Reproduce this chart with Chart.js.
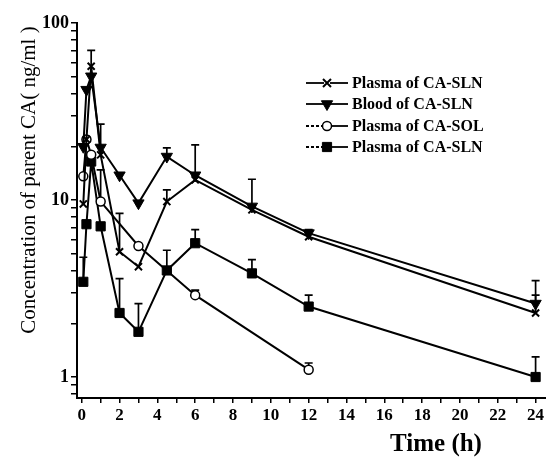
<!DOCTYPE html>
<html><head><meta charset="utf-8">
<script src="https://cdn.jsdelivr.net/npm/chart.js@4"></script>
<style>html,body{margin:0;padding:0;background:#fff}canvas{display:block}</style>
</head><body>
<canvas id="c" width="546" height="457"></canvas>
<script>
// ---- data ----
const times = [0.083, 0.25, 0.5, 1, 2, 3, 4.5, 6, 9, 12, 24];
const seriesNames = ['Plasma of CA-SLN', 'Blood of CA-SLN', 'Plasma of CA-SOL', 'Plasma of CA-SLN'];
const plasmaSLN   = [9.5, 22, 57, 18, 5.1, 4.2, 9.8, 13, 8.8, 6.2, 2.3];
const plasmaSLNsd = [null, null, 13, null, 3.3, null, 1.6, null, null, null, 0.6];
const bloodSLN    = [20, 42, 50, 19.8, 13.8, 9.6, 17.6, 13.8, 9.2, 6.5, 2.6];
const bloodSLNsd  = [null, null, null, 7, null, null, 2.1, 6.7, 3.9, 0.3, 0.9];
const plasmaSOL   = [13.6, 22, 18, 9.8, null, 5.5, null, 2.9, null, 1.1, null];
const plasmaSOLsd = [null, null, null, 5, null, null, null, 0.2, null, 0.1, null];
const plasmaSLN2  = [3.45, 7.3, 16.5, 7.1, 2.3, 1.8, 4.0, 5.7, 3.85, 2.5, 1.0];
const plasmaSLN2sd= [1.3, null, null, null, 1.3, 0.8, 1.2, 1.1, 0.75, 0.4, 0.3];
const xTicks = [0,1,2,3,4,5,6,7,8,9,10,11,12,13,14,15,16,17,18,19,20,21,22,23,24];
const xTickLabels = ['0','2','4','6','8','10','12','14','16','18','20','22','24'];
const yTicks = [0.8,0.9,1,2,3,4,5,6,7,8,9,10,20,30,40,50,60,70,80,90,100];
const yTickLabels = ['1','10','100'];
const xTitle = 'Time (h)';
const yTitle = 'Concentration of parent CA( ng/ml )';

const pts = arr => times.map((t, i) => ({x: t, y: arr[i]}));
const SERIF = '"Liberation Serif", "DejaVu Serif", serif';

const markerDefs = [
  {pointStyle: 'crossRot', radius: 5, rotation: 0, bg: '#000', bw: 2},
  {pointStyle: 'triangle', radius: 6.5, rotation: 180, bg: '#000', bw: 1},
  {pointStyle: 'circle', radius: 4.5, rotation: 0, bg: '#fff', bw: 1.5},
  {pointStyle: 'rect', radius: 6.5, rotation: 0, bg: '#000', bw: 1}
];
const values = [plasmaSLN, bloodSLN, plasmaSOL, plasmaSLN2];
const sds = [plasmaSLNsd, bloodSLNsd, plasmaSOLsd, plasmaSLN2sd];

const datasets = values.map((v, i) => ({
  label: seriesNames[i],
  data: pts(v),
  borderColor: '#000',
  borderWidth: 2,
  backgroundColor: markerDefs[i].bg,
  pointStyle: markerDefs[i].pointStyle,
  pointRadius: markerDefs[i].radius,
  pointRotation: markerDefs[i].rotation,
  pointBackgroundColor: markerDefs[i].bg,
  pointBorderColor: '#000',
  pointBorderWidth: markerDefs[i].bw,
  spanGaps: true,
  tension: 0,
  clip: false,
  sd: sds[i]
}));

const errorBars = {
  id: 'errorBars',
  beforeDatasetsDraw(chart) {
    const ctx = chart.ctx, xs = chart.scales.x, ys = chart.scales.y;
    ctx.save();
    ctx.strokeStyle = '#000';
    ctx.lineWidth = 1.7;
    chart.data.datasets.forEach(ds => {
      ds.sd.forEach((s, j) => {
        const v = ds.data[j].y;
        if (s == null || v == null) return;
        const x = xs.getPixelForValue(ds.data[j].x);
        const y0 = ys.getPixelForValue(v);
        const y1 = ys.getPixelForValue(v + s);
        ctx.beginPath();
        ctx.moveTo(x, y0); ctx.lineTo(x, y1);
        ctx.moveTo(x - 4, y1); ctx.lineTo(x + 4, y1);
        ctx.stroke();
      });
    });
    ctx.restore();
  }
};

function drawMarker(ctx, i, x, y) {
  const m = markerDefs[i];
  ctx.save();
  ctx.strokeStyle = '#000';
  ctx.fillStyle = m.bg;
  ctx.lineWidth = m.bw;
  ctx.beginPath();
  if (m.pointStyle === 'crossRot') {
    const r = m.radius * 0.8;
    ctx.moveTo(x - r, y - r); ctx.lineTo(x + r, y + r);
    ctx.moveTo(x + r, y - r); ctx.lineTo(x - r, y + r);
    ctx.stroke();
  } else if (m.pointStyle === 'triangle') {
    const r = m.radius;
    ctx.moveTo(x, y + r);
    ctx.lineTo(x - r * 0.866, y - r * 0.5);
    ctx.lineTo(x + r * 0.866, y - r * 0.5);
    ctx.closePath(); ctx.fill(); ctx.stroke();
  } else if (m.pointStyle === 'circle') {
    ctx.arc(x, y, m.radius, 0, Math.PI * 2);
    ctx.fill(); ctx.stroke();
  } else {
    const s = m.radius * Math.SQRT1_2;
    ctx.rect(x - s, y - s, 2 * s, 2 * s);
    ctx.fill(); ctx.stroke();
  }
  ctx.restore();
}

const decorations = {
  id: 'decorations',
  afterDraw(chart) {
    const ctx = chart.ctx;
    ctx.save();
    // legend
    const rows = [83, 104, 126, 147];
    ctx.font = 'bold 16px ' + SERIF;
    ctx.textBaseline = 'middle';
    ctx.fillStyle = '#000';
    rows.forEach((y, i) => {
      ctx.strokeStyle = '#000';
      ctx.lineWidth = 1.8;
      ctx.beginPath();
      if (i >= 2) { ctx.setLineDash([3, 2]); }
      ctx.moveTo(306, y); ctx.lineTo(324, y); ctx.stroke();
      ctx.setLineDash([]);
      ctx.beginPath(); ctx.moveTo(330, y); ctx.lineTo(348, y); ctx.stroke();
      drawMarker(ctx, i, 327, y);
      ctx.fillText(seriesNames[i], 352, y + 1);
    });
    // axis titles
    ctx.font = 'bold 25px ' + SERIF;
    ctx.textAlign = 'center';
    ctx.textBaseline = 'middle';
    ctx.fillText(xTitle, 436, 445);
    ctx.translate(29, 180);
    ctx.rotate(-Math.PI / 2);
    ctx.font = '21px ' + SERIF;
    ctx.fillText(yTitle, 0, 0);
    ctx.restore();
  }
};

new Chart(document.getElementById('c'), {
  type: 'line',
  data: {datasets},
  plugins: [errorBars, decorations],
  options: {
    responsive: false,
    animation: false,
    devicePixelRatio: 1,
    layout: {autoPadding: false, padding: {top: 23, right: 0, left: 0, bottom: 0}},
    plugins: {legend: {display: false}, tooltip: {enabled: false}},
    scales: {
      x: {
        type: 'linear', min: -0.25, max: 24.55,
        afterBuildTicks: s => { s.ticks = xTicks.map(v => ({value: v})); },
        afterFit: s => { s.height = 59; s.paddingLeft = 0; s.paddingRight = 0; },
        grid: {drawOnChartArea: false, drawTicks: true, tickLength: 5, color: '#000', lineWidth: 1.5},
        border: {display: true, color: '#000', width: 2},
        ticks: {
          color: '#000', padding: 2, maxRotation: 0, autoSkip: false,
          font: {family: SERIF, weight: 'bold', size: 17},
          callback: v => xTickLabels.includes(String(v)) ? String(v) : ''
        }
      },
      y: {
        type: 'logarithmic', min: 0.761, max: 100,
        afterBuildTicks: s => { s.ticks = yTicks.map(v => ({value: v})); },
        afterFit: s => { s.width = 77; s.paddingTop = 0; s.paddingBottom = 0; },
        grid: {drawOnChartArea: false, drawTicks: true, tickLength: 6, color: '#000', lineWidth: 1.5},
        border: {display: true, color: '#000', width: 2},
        ticks: {
          color: '#000', padding: 2, autoSkip: false,
          font: {family: SERIF, weight: 'bold', size: 18},
          callback: v => yTickLabels.includes(String(v)) ? String(v) : ''
        }
      }
    }
  }
});
</script>
</body></html>
